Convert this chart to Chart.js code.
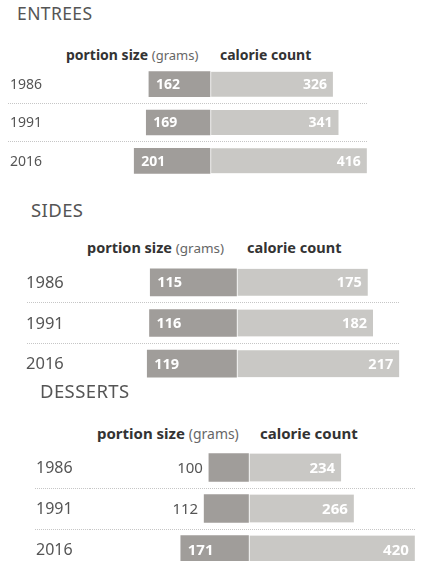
<!DOCTYPE html>
<html>
<head>
<meta charset="utf-8">
<script src="https://cdn.jsdelivr.net/npm/chart.js@4.4.1/dist/chart.umd.min.js"></script>
<style>
  html, body { margin: 0; padding: 0; background: #fff; width: 423px; height: 561px; overflow: hidden; }
  body { position: relative; font-family: "Noto Sans", sans-serif; }
  .title { position: absolute; color: #555; letter-spacing: 0.4px; white-space: nowrap; }
  .head { position: absolute; font-weight: bold; color: #333; white-space: nowrap; }
  .head span { font-weight: normal; color: #666; font-size: 0.93em; }
  canvas { position: absolute; left: 0; }
</style>
</head>
<body>
<div class="title" style="left:17px; top:1px; font-size:17.5px">ENTREES</div>
<div class="head" style="left:66px; top:45px; font-size:14px">portion size <span>(grams)</span></div>
<div class="head" style="left:220px; top:45px; font-size:14px">calorie count</div>
<canvas id="entrees" width="423" height="115" style="top:65px"></canvas>

<div class="title" style="left:31px; top:197px; font-size:18.5px">SIDES</div>
<div class="head" style="left:87px; top:237px; font-size:14.5px">portion size <span>(grams)</span></div>
<div class="head" style="left:247px; top:237px; font-size:14.5px">calorie count</div>
<canvas id="sides" width="423" height="122" style="top:262px"></canvas>

<div class="title" style="left:40px; top:378px; font-size:18.5px">DESSERTS</div>
<div class="head" style="left:97px; top:423px; font-size:15px">portion size <span>(grams)</span></div>
<div class="head" style="left:260px; top:423px; font-size:15px">calorie count</div>
<canvas id="desserts" width="423" height="123" style="top:447px"></canvas>

<script>
const years = ['1986', '1991', '2016'];

const entreePortion = [162, 169, 201];
const entreeCalories = [326, 341, 416];

const sidePortion = [115, 116, 119];
const sideCalories = [175, 182, 217];

const dessertPortion = [100, 112, 171];
const dessertCalories = [234, 266, 420];

const darkGray = '#a09d9a';
const lightGray = '#c9c8c5';

// only the two lines between the rows, not the top and bottom edges
const separator = (c) => (c.index === 1 || c.index === 2) ? '#c6c6c6' : 'rgba(0,0,0,0)';

function valueLabels(portion, calories, fontSize) {
  return {
    id: 'valueLabels',
    afterDatasetsDraw(chart) {
      const ctx = chart.ctx;
      ctx.save();
      ctx.textBaseline = 'middle';
      chart.getDatasetMeta(0).data.forEach((bar, i) => {
        const left = Math.min(bar.x, bar.base);
        const width = Math.abs(bar.base - bar.x);
        if (width > 50) {
          ctx.font = `bold ${fontSize}px "Noto Sans"`;
          ctx.fillStyle = '#fff';
          ctx.textAlign = 'left';
          ctx.fillText(portion[i], left + 7, bar.y + 1);
        } else {
          // too short to hold its number, so the number sits outside
          ctx.font = `${fontSize}px "Noto Sans"`;
          ctx.fillStyle = '#555';
          ctx.textAlign = 'right';
          ctx.fillText(portion[i], left - 6, bar.y + 1);
        }
      });
      chart.getDatasetMeta(1).data.forEach((bar, i) => {
        ctx.font = `bold ${fontSize}px "Noto Sans"`;
        ctx.fillStyle = '#fff';
        ctx.textAlign = 'right';
        ctx.fillText(calories[i], bar.x - 6, bar.y + 1);
      });
      ctx.restore();
    }
  };
}

function drawPanel(id, portion, calories, p) {
  new Chart(document.getElementById(id), {
    type: 'bar',
    data: {
      labels: years,
      datasets: [
        { data: portion.map(v => -v), backgroundColor: darkGray, borderWidth: 0 },
        {
          data: calories,
          backgroundColor: lightGray,
          borderColor: '#fff',
          borderWidth: { left: 1.5, top: 0, right: 0, bottom: 0 },
          borderSkipped: false
        }
      ]
    },
    options: {
      indexAxis: 'y',
      responsive: false,
      animation: false,
      devicePixelRatio: 1,
      layout: { padding: { left: p.textLeft, right: 423 - p.right, top: 0, bottom: 0 } },
      datasets: { bar: { grouped: false, barThickness: p.bar } },
      plugins: { legend: { display: false }, tooltip: { enabled: false } },
      scales: {
        x: {
          display: false,
          min: -(p.center - p.left) / p.k,
          max: (p.right - p.center) / p.k
        },
        y: {
          grid: {
            offset: true,
            color: separator,
            tickColor: separator,
            tickLength: p.left - p.lineStart,
            tickBorderDash: [1, 1],
            lineWidth: 1
          },
          border: { display: false, dash: [1, 1] },
          ticks: {
            crossAlign: 'far',
            labelOffset: 1,
            color: '#555',
            font: { family: 'Noto Sans', size: p.yearFont }
          },
          afterFit: (s) => {
            s.width = p.left - p.textLeft;
            s.paddingTop = 0;
            s.paddingBottom = 0;
          }
        }
      }
    },
    plugins: [valueLabels(portion, calories, p.valueFont)]
  });
}

drawPanel('entrees', entreePortion, entreeCalories,
  { textLeft: 10, left: 62, right: 368, lineStart: 8, center: 210, k: 0.377, bar: 25, yearFont: 14, valueFont: 14 });
drawPanel('sides', sidePortion, sideCalories,
  { textLeft: 26, left: 80, right: 400, lineStart: 27, center: 236.5, k: 0.75, bar: 27, yearFont: 16.5, valueFont: 14.5 });
drawPanel('desserts', dessertPortion, dessertCalories,
  { textLeft: 36, left: 90, right: 416, lineStart: 35, center: 248.5, k: 0.396, bar: 28, yearFont: 16, valueFont: 15 });
</script>
</body>
</html>
